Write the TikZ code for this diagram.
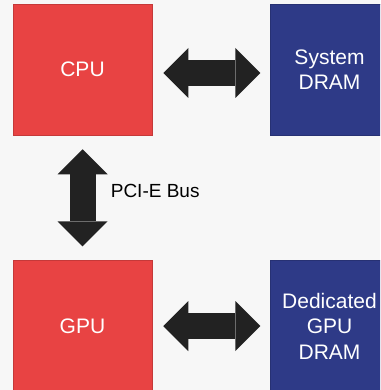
\documentclass[tikz,border=0pt]{standalone}
\usepackage{fontspec}
\setmainfont{Liberation Sans}
\usetikzlibrary{arrows.meta,positioning}

\definecolor{cpured}{HTML}{E84343}
\definecolor{dramblue}{HTML}{2E3A87}
\definecolor{busgray}{HTML}{222222}
\definecolor{slidebg}{HTML}{F7F7F7}

\tikzset{
    chip/.style = {fill = cpured, draw = cpured!85!black, line width = 0.5pt,
        minimum width = 139pt, minimum height = 131pt, inner sep = 0pt,
        text = white, align = center, font = \fontsize{21}{25.5}\selectfont},
    mem/.style = {chip, fill = dramblue, draw = dramblue!85!black, minimum width = 118pt},
    bus/.style = {busgray, line width = 26pt, {Triangle[length = 25pt, width = 50pt, line width = 0pt]}-{Triangle[length = 25pt, width = 50pt, line width = 0pt]}}
}

\begin{document}
\begin{tikzpicture}[x = 1pt, y = -1pt]
    \fill[slidebg] (0,0) rectangle (380,390);
    \useasboundingbox (0,0) rectangle (380,390);
    \begin{scope}
        \clip (0,0) rectangle (380,390);
        \node[chip] (cpu) at (82.5,69.5) {CPU};
        \node[mem, right = 118pt of cpu] (sysdram) {System\\DRAM};
        \node[chip, below = 125pt of cpu] (gpu) {GPU};
        \node[mem, right = 118pt of gpu] (gpudram) {Dedicated\\GPU\\DRAM};
    \end{scope}
    % buses
    \draw[bus, shorten < = 11pt, shorten > = 10pt] ([yshift = -3.5pt]cpu.east) -- ([yshift = -3.5pt]sysdram.west);
    \draw[bus, shorten < = 14pt, shorten > = 14pt] (cpu) -- (gpu)
        node[midway, right, xshift = 12pt, yshift = 7pt, text = black,
            font = \fontsize{19}{23}\selectfont] (pcie) {PCI-E Bus};
    \draw[bus, shorten < = 11pt, shorten > = 10pt] (gpu) -- (gpudram);
\end{tikzpicture}
\end{document}
